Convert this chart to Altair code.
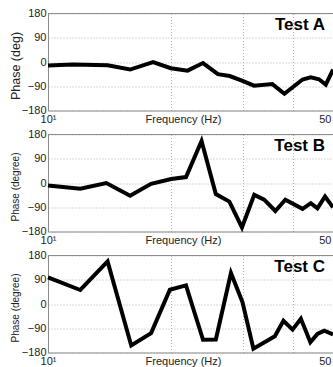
import altair as alt
import pandas as pd

# ---- data ----
freq_a = [10, 11.5, 14.0, 15.9, 18.1, 20.0, 22.0, 24.0, 26.1, 27.9, 30.0, 32.0, 35.5, 38.0, 42.1, 44.1, 46.2, 48.0, 50]
phase_a = [-13, -9, -12, -28, 0, -23, -32, -4, -45, -52, -70, -88, -82, -118, -65, -57, -64, -84, -28]

freq_b = [10, 12.0, 13.9, 15.9, 17.9, 20.05, 21.8, 23.8, 25.8, 27.85, 29.9, 32.05, 33.9, 36.1, 38.2, 42.1, 44.1, 45.8, 47.8, 50]
phase_b = [-9, -21, 0, -47, -3, 15, 22, 156, -41, -69, -165, -44, -62, -104, -62, -96, -75, -94, -50, -90]

freq_c = [10, 12.0, 14.0, 16.0, 17.9, 19.9, 21.8, 24.0, 25.8, 28.1, 30.0, 31.9, 36.0, 37.8, 39.8, 41.7, 44.0, 45.8, 47.6, 50]
phase_c = [99, 52, 158, -154, -108, 53, 69, -133, -132, 115, 6, -166, -120, -62, -95, -55, -142, -111, -99, -113]

x_ticks = [10, 20, 30, 40, 50]
y_ticks = [-180, -90, 0, 90, 180]
panel_labels = ["Test A", "Test B", "Test C"]
y_titles = ["Phase (deg)", "Phase (degree)", "Phase (degree)"]
y_title_sizes = [12.5, 10, 10]
x_title = "Frequency (Hz)"

FONT = "Liberation Sans"
TEXT = "#222222"
AXIS = "#8c8c8c"
GRID = "#b0b0b0"


def make_axes(ytitle, ytitle_size):
    x_axis = alt.Axis(
        values=x_ticks,
        labelExpr="datum.value == 10 ? '10\u00b9' : (datum.value == 50 ? '50' : '')",
        labelFlush=False,
        labelOverlap=False,
        labelAlign={"condition": {"test": "datum.value >= 50", "value": "right"}, "value": "center"},
        labelOffset={"condition": {"test": "datum.value >= 50", "value": -2}, "value": 0},
        labelBaseline="top",
        labelPadding=3,
        labelFont=FONT,
        labelFontSize=11,
        labelColor=TEXT,
        ticks=False,
        tickSize=0,
        domainColor=AXIS,
        grid=True,
        gridColor=GRID,
        gridDash=[1, 2],
        title=x_title,
        titleX=135,
        titleY=3,
        titleBaseline="top",
        titleAlign="center",
        titleFont=FONT,
        titleFontSize=11,
        titleFontWeight="normal",
        titleColor=TEXT,
    )
    y_axis = alt.Axis(
        values=y_ticks,
        labelExpr="format(datum.value, 'd')",
        labelOverlap=False,
        labelFlush=False,
        labelPadding=2,
        labelFont=FONT,
        labelFontSize=11,
        labelColor=TEXT,
        ticks=False,
        tickSize=0,
        domainColor=AXIS,
        grid=True,
        gridColor=GRID,
        gridDash=[1, 2],
        title=ytitle,
        titleX=-33,
        titleY=52,
        titleAngle=270,
        titleAlign="center",
        titleBaseline="middle",
        titleFont=FONT,
        titleFontSize=ytitle_size,
        titleFontWeight="normal",
        titleColor=TEXT,
    )
    return x_axis, y_axis


def panel(freq, phase, label, ytitle, ytitle_size):
    df = pd.DataFrame({"freq": freq, "phase": phase})
    x_axis, y_axis = make_axes(ytitle, ytitle_size)
    xs = alt.Scale(type="log", domain=[10, 50], nice=False)
    ys = alt.Scale(domain=[-180, 180], nice=False, zero=False)

    line = alt.Chart(df).mark_line(color="black", strokeWidth=4).encode(
        x=alt.X("freq:Q", scale=xs, axis=x_axis),
        y=alt.Y("phase:Q", scale=ys, axis=y_axis),
    )
    border = alt.Chart(pd.DataFrame({"k": [0]})).mark_rule(color=AXIS, strokeWidth=1).encode(
        y=alt.Y(datum=180, scale=ys, axis=y_axis)
    )
    text = alt.Chart(pd.DataFrame({"label": [label]})).mark_text(
        font=FONT, fontSize=17, fontWeight="bold", color="black", align="right", baseline="alphabetic"
    ).encode(
        text="label:N",
        x=alt.X(datum=47.8, scale=xs, axis=x_axis),
        y=alt.Y(datum=117, scale=ys, axis=y_axis),
    )
    return alt.layer(line, border, text).properties(width=285, height=97)


pa = panel(freq_a, phase_a, panel_labels[0], y_titles[0], y_title_sizes[0])
pb = panel(freq_b, phase_b, panel_labels[1], y_titles[1], y_title_sizes[1])
pc = panel(freq_c, phase_c, panel_labels[2], y_titles[2], y_title_sizes[2])

chart = alt.vconcat(pa, pb, pc, spacing=24, bounds="flush").properties(
    autosize=alt.AutoSizeParams(type="none"),
    padding={"left": 48, "top": 13.5, "right": 0, "bottom": 353.5},
    background="white",
).configure(font=FONT).configure_view(stroke=None)

chart.save("out.html", embed_options={"renderer": "svg", "actions": False})
